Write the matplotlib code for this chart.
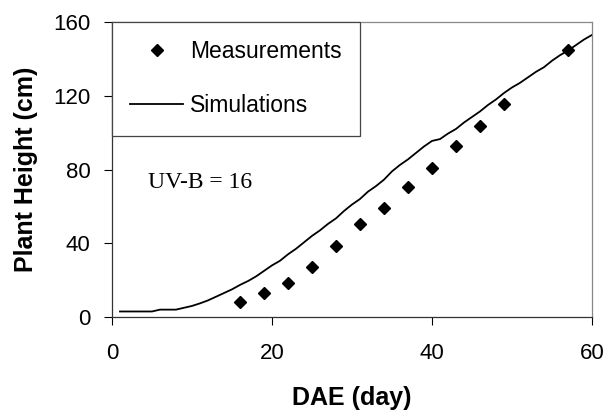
import matplotlib
matplotlib.use("Agg")
import matplotlib.pyplot as plt

# measured plant height (cm)
meas_dae = [16, 19, 22, 25, 28, 31, 34, 37, 40, 43, 46, 49, 57]
meas_height = [8.3, 12.8, 18.3, 27, 38.5, 50.4, 59.3, 70.3, 80.6, 92.7, 103.7, 115.5, 144.8]

# simulated plant height (cm), one value per day
sim_dae = list(range(1, 61))
sim_height = [3, 3, 3, 3, 3, 4, 4, 4, 5, 6,
              7.4, 9, 11, 13, 15, 17.4, 19.5, 22, 25, 28,
              30.5, 34, 37, 40.5, 44, 47, 50.5, 53.5, 57.5, 61,
              64, 68, 71, 74.5, 79, 82.5, 85.5, 89, 92.5, 95.5,
              96.5, 99.5, 102, 105.5, 108.5, 111.5, 115, 118, 121.5, 124.5,
              127, 130, 133, 135.5, 139, 142, 144.5, 147.5, 150.5, 153]

x_ticks = [0, 20, 40, 60]
y_ticks = [0, 40, 80, 120, 160]

plt.rcParams['font.family'] = ['Liberation Sans', 'DejaVu Sans']

fig = plt.figure(figsize=(6.06, 4.17), dpi=100)
ax = fig.add_axes([0.1848, 0.2398, 0.7921, 0.7074])

ax.plot(sim_dae, sim_height, color="black", linewidth=1.3, label="Simulations")
ax.plot(meas_dae, meas_height, linestyle="none", marker="D", markersize=6.2,
        color="black", label="Measurements")

ax.set_xlim(0, 60)
ax.set_ylim(0, 160)
ax.set_xticks(x_ticks)
ax.set_yticks(y_ticks)
ax.tick_params(direction="out", length=5.5, width=0.8, labelsize=16)
ax.tick_params(axis="y", pad=10)
ax.tick_params(axis="x", pad=13)

for side in ["left", "bottom"]:
    ax.spines[side].set_color("#333333")
    ax.spines[side].set_linewidth(0.9)
for side in ["top", "right"]:
    ax.spines[side].set_color("#888888")
    ax.spines[side].set_linewidth(0.9)

ax.set_xlabel("DAE (day)", fontsize=18, fontweight="bold", labelpad=16)
ax.set_ylabel("Plant Height (cm)", fontsize=18, fontweight="bold", labelpad=11)

# remind box
handles, labels = ax.get_legend_handles_labels()
leg = ax.legend(handles[::-1], labels[::-1], loc="upper left", bbox_to_anchor=(0, 1),
                borderaxespad=0, fontsize=16.5, numpoints=1, handlelength=2.3,
                handletextpad=0.3, labelspacing=1.35, borderpad=0.8,
                fancybox=False, framealpha=1, edgecolor="#444444")
leg.get_frame().set_linewidth(0.9)

ax.text(4.5, 72.7, "UV-B = 16", fontsize=17, family=["Liberation Serif", "DejaVu Serif"],
        va="center", ha="left")

fig.savefig("out.png", dpi=100)
